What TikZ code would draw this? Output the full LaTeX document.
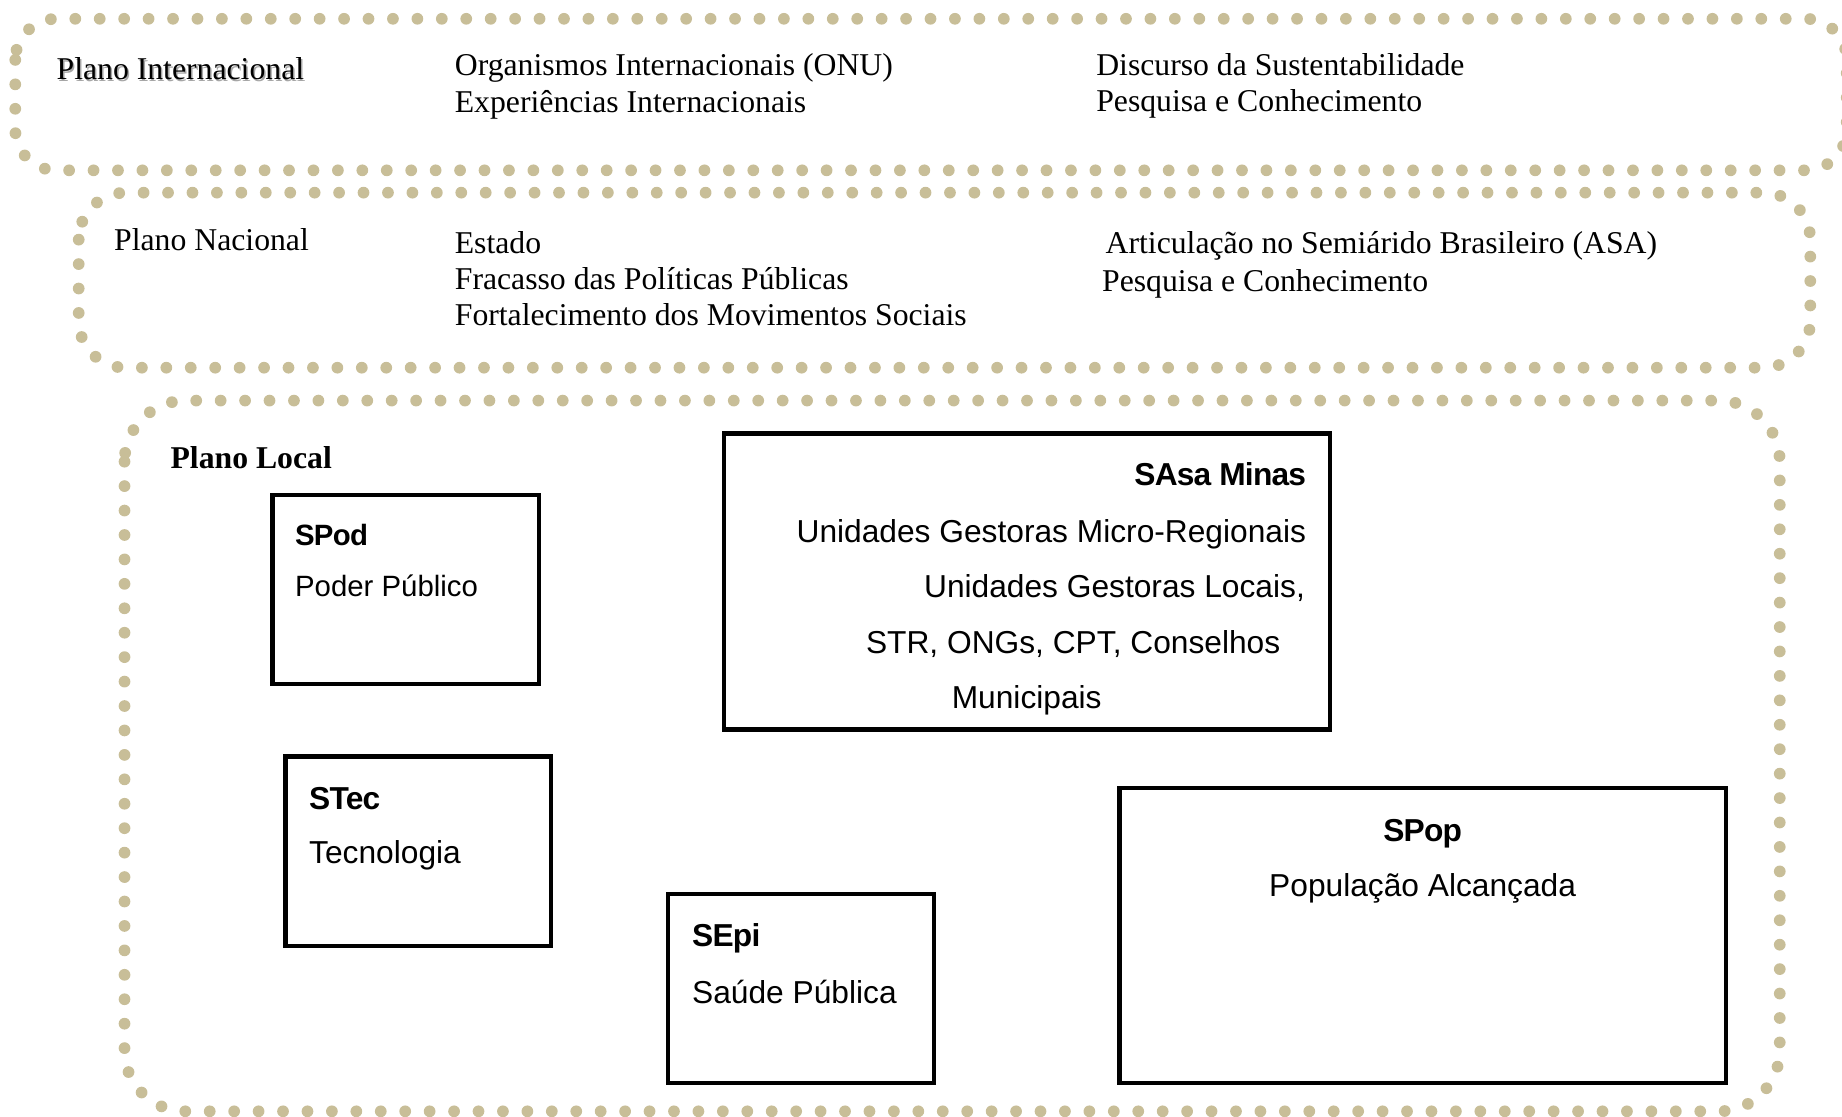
\documentclass[tikz,border=0pt]{standalone}
\usepackage{fontspec}
\setmainfont{Liberation Serif}
\newfontfamily\arialf{Liberation Sans}[BoldFeatures={LetterSpace=-2.5}]
\definecolor{dotc}{RGB}{200,190,152}
\begin{document}
\begin{tikzpicture}[x=1pt,y=-1pt,
  plano/.style={draw=dotc, line width=10pt, line cap=round, dash pattern=on 0pt off 20.8pt},
  caixa/.style={draw=black, line width=3.5pt, anchor=north west, inner sep=0pt, outer sep=0pt},
  serif/.style={font=\fontsize{27}{31}\selectfont, inner sep=0pt, anchor=base west},
  sserif/.style={font=\bfseries\fontsize{27}{31}\selectfont, inner sep=0pt, anchor=base west},
  sans/.style={font=\arialf\fontsize{27}{31}\selectfont, inner sep=0pt},
  sansb/.style={font=\arialf\bfseries\fontsize{27}{31}\selectfont, inner sep=0pt},
  sanss/.style={font=\arialf\fontsize{25}{29}\selectfont, inner sep=0pt},
  sanssb/.style={font=\arialf\bfseries\fontsize{25}{29}\selectfont, inner sep=0pt}
]
\useasboundingbox (0,0) rectangle (1568,950);

% dotted frames of the three planes
\begin{scope}
\clip (0,0) rectangle (1568,950);
\draw[plano, rounded corners=35] (13,16) rectangle (1572,145);
\draw[plano, rounded corners=40] (67,164) rectangle (1541,313);
\draw[plano, rounded corners=52] (106,341) rectangle (1515,946);
\end{scope}

% international plane
\node[serif, text=black!35] (pintsh) at (49.3,69.3) {Plano Internacional};
\node[serif] (pint) at (48,68) {Plano Internacional};
\node[serif] (onu) at (387,64) {Organismos Internacionais (ONU)};
\node[serif] (expi) at (387,96) {Experiências Internacionais};
\node[serif] (disc) at (933,64) {Discurso da Sustentabilidade};
\node[serif] (pesq1) at (933,95) {Pesquisa e Conhecimento};

% national plane
\node[serif] (pnac) at (97,213) {Plano Nacional};
\node[serif] (est) at (387,215.5) {Estado};
\node[serif] (frac) at (387,246.5) {Fracasso das Políticas Públicas};
\node[serif] (fort) at (387,277.5) {Fortalecimento dos Movimentos Sociais};
\node[serif] (asa) at (941,216) {Articulação no Semiárido Brasileiro (ASA)};
\node[serif] (pesq2) at (938,248) {Pesquisa e Conhecimento};

% local plane
\node[sserif] (ploc) at (145,399) {Plano Local};

\node[caixa, minimum width=227pt, minimum height=161pt] (spod) at (232,421) {};
\node[sanssb, anchor=base west] (spodt) at (251,464) {SPod};
\node[sanss, anchor=base west] (spodb) at (251,508) {Poder Público};

\node[caixa, minimum width=516pt, minimum height=252pt] (sasa) at (616,369) {};
\node[sansb, anchor=base east] (sasat) at (1112,413.5) {SAsa Minas};
\node[sans, anchor=base east] (sasa1) at (1112,462) {Unidades Gestoras Micro-Regionais};
\node[sans, anchor=base east] (sasa2) at (1111,508.5) {Unidades Gestoras Locais,};
\node[sans, anchor=base west] (sasa3) at (737,556.5) {STR, ONGs, CPT, Conselhos};
\node[sans, anchor=base west] (sasa4) at (810,603.5) {Municipais};

\node[caixa, minimum width=226pt, minimum height=161pt] (stec) at (243,644) {};
\node[sansb, anchor=base west] (stect) at (263,689) {STec};
\node[sans, anchor=base west] (stecb) at (263,735) {Tecnologia};

\node[caixa, minimum width=226pt, minimum height=161pt] (sepi) at (569,761) {};
\node[sansb, anchor=base west] (sepit) at (589,806) {SEpi};
\node[sans, anchor=base west] (sepib) at (589,854) {Saúde Pública};

\node[caixa, minimum width=516pt, minimum height=251pt] (spop) at (953,671) {};
\node[sansb, anchor=base] (spopt) at (1211,716) {SPop};
\node[sans, anchor=base] (spopb) at (1211,763) {População Alcançada};
\end{tikzpicture}
\end{document}
